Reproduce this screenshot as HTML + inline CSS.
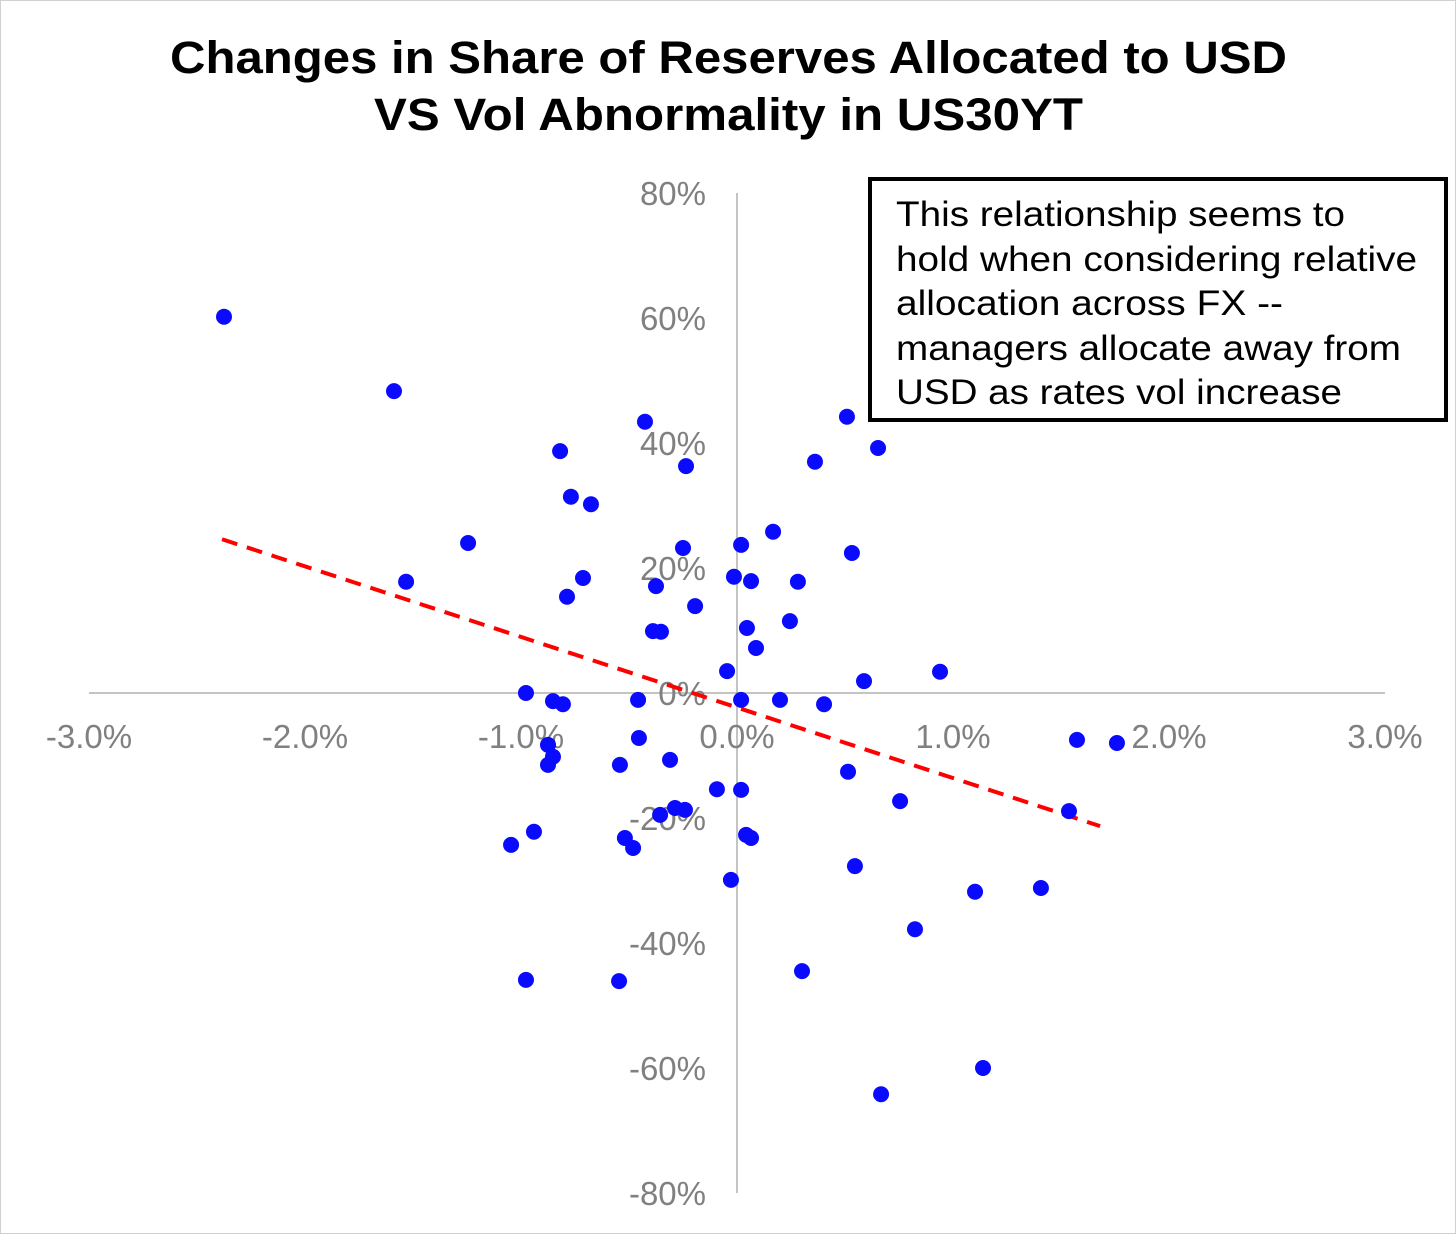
<!DOCTYPE html>
<html><head><meta charset="utf-8"><style>
html,body{margin:0;padding:0;background:#fff}
svg{display:block;font-family:"Liberation Sans",Arial,sans-serif}
</style></head><body>
<svg id="chart" width="1456" height="1234" viewBox="0 0 1456 1234">
<rect x="0.5" y="0.5" width="1455" height="1233" fill="#fff" stroke="#d0d0d0"/>
<text x="170" y="73" textLength="1117" lengthAdjust="spacingAndGlyphs" font-size="45" font-weight="bold">Changes in Share of Reserves Allocated to USD</text>
<text x="374" y="130" textLength="709" lengthAdjust="spacingAndGlyphs" font-size="45" font-weight="bold">VS Vol Abnormality in US30YT</text>
<g id="axes"></g>
<g id="trend"></g>
<g id="points"></g>
<g>
<rect x="870" y="179" width="576" height="241" fill="#fff" stroke="#000" stroke-width="4"/>
<text font-size="35" fill="#000">
<tspan x="896" y="226" textLength="449" lengthAdjust="spacingAndGlyphs">This relationship seems to</tspan>
<tspan x="896" y="271" textLength="521" lengthAdjust="spacingAndGlyphs">hold when considering relative</tspan>
<tspan x="896" y="315" textLength="387" lengthAdjust="spacingAndGlyphs">allocation across FX --</tspan>
<tspan x="896" y="360" textLength="505" lengthAdjust="spacingAndGlyphs">managers allocate away from</tspan>
<tspan x="896" y="404" textLength="446" lengthAdjust="spacingAndGlyphs">USD as rates vol increase</tspan>
</text>
</g>
</svg>
<script>
const xTicks=[-3,-2,-1,0,1,2,3];
const xTickLabels=["-3.0%","-2.0%","-1.0%","0.0%","1.0%","2.0%","3.0%"];
const yTicks=[80,60,40,20,0,-20,-40,-60,-80];
const yTickLabels=["80%","60%","40%","20%","0%","-20%","-40%","-60%","-80%"];
const volX=[-2.375,-1.588,-1.532,-1.245,-0.977,-0.819,-0.769,-0.676,-0.713,-0.787,-0.852,-0.806,-0.875,-0.852,-0.875,-0.426,-0.236,-0.250,-0.375,-0.194,-0.389,-0.352,-0.458,-0.454,-0.310,-0.542,-0.093,-0.356,-0.287,-0.241,-0.519,-0.481,-0.940,-1.046,-0.977,-0.546,0.019,-0.014,0.065,0.167,0.046,0.088,-0.046,0.019,0.199,0.019,0.042,0.065,-0.028,0.361,0.509,0.653,0.532,0.282,0.245,0.588,0.940,0.403,0.514,0.755,0.546,0.824,1.102,1.407,1.537,1.574,1.759,0.301,1.139,0.667];
const usdShare=[60.2,48.3,17.8,24.0,0,38.7,31.4,30.2,18.4,15.4,-1.3,-1.8,-8.3,-10.2,-11.5,43.4,36.3,23.2,17.1,13.9,9.9,9.8,-1.1,-7.2,-10.7,-11.5,-15.4,-19.5,-18.4,-18.7,-23.2,-24.8,-22.2,-24.3,-45.9,-46.1,23.7,18.6,17.9,25.8,10.4,7.2,3.5,-1.1,-1.1,-15.5,-22.7,-23.2,-29.9,37.0,44.2,39.2,22.4,17.8,11.5,1.9,3.4,-1.8,-12.6,-17.3,-27.7,-37.8,-31.8,-31.2,-18.9,-7.5,-8.0,-44.5,-60.0,-64.2];
const trendX=[-2.384,1.681];
const trendY=[24.6,-21.3];

const NS="http://www.w3.org/2000/svg";
const sx=v=>737+v*216;
const sy=v=>693-v*6.25;
function mk(tag,attrs,parent){const e=document.createElementNS(NS,tag);for(const k in attrs)e.setAttribute(k,attrs[k]);parent.appendChild(e);return e;}
const axes=document.getElementById('axes');
let ax=mk('line',{x1:sx(-3),x2:sx(3),y1:sy(0),y2:sy(0),stroke:'#b0b0b0','stroke-width':1.5},axes);


let ay=mk('line',{x1:sx(0),x2:sx(0),y1:sy(80),y2:sy(-80),stroke:'#b0b0b0','stroke-width':1.5},axes);


xTicks.forEach((t,i)=>{const e=mk('text',{x:sx(t),y:sy(0)+55,'text-anchor':'middle','font-size':33,fill:'#808080'},axes);e.textContent=xTickLabels[i];

});
yTicks.forEach((t,i)=>{const e=mk('text',{x:706,y:sy(t)+12,'text-anchor':'end','font-size':33,fill:'#808080'},axes);e.textContent=yTickLabels[i];

});
const tl=mk('line',{x1:sx(trendX[0]),y1:sy(trendY[0]),x2:sx(trendX[1]),y2:sy(trendY[1]),stroke:'#ff0000','stroke-width':4,'stroke-dasharray':'16,10'},document.getElementById('trend'));


const pg=document.getElementById('points');
volX.forEach((v,i)=>{const c=mk('circle',{cx:sx(v),cy:sy(usdShare[i]),r:8,fill:'#0a0aff'},pg);

});
</script>
</body></html>
